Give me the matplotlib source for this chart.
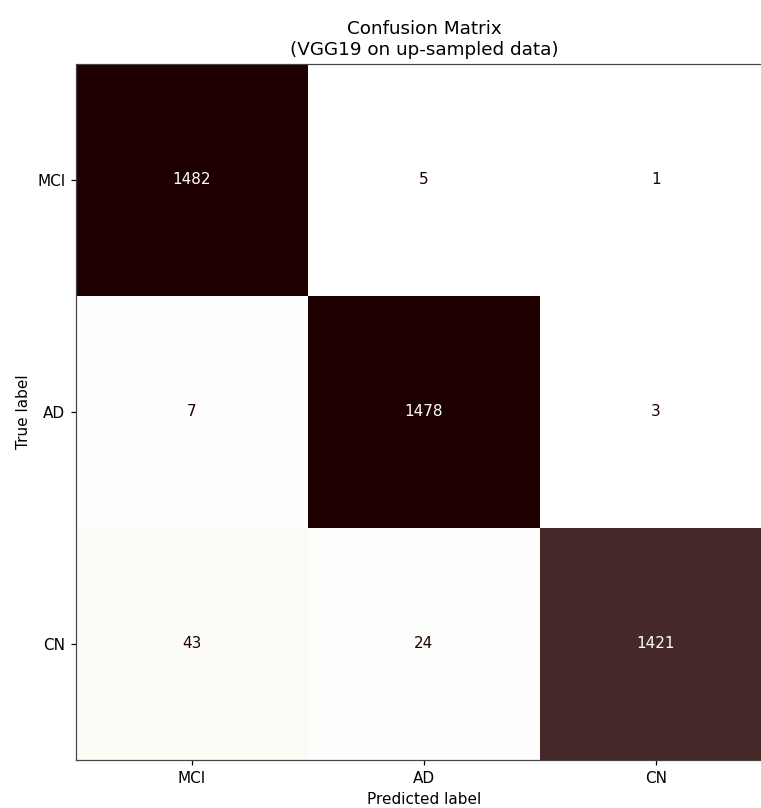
import matplotlib
matplotlib.use('Agg')
import matplotlib.pyplot as plt
import numpy as np

class_labels = ['MCI', 'AD', 'CN']
conf_counts = [[1482, 5, 1],
               [7, 1478, 3],
               [43, 24, 1421]]
title = 'Confusion Matrix\n(VGG19 on up-sampled data)'

cm = np.array(conf_counts)
cmap = plt.get_cmap('pink_r')

dpi = 110
fig = plt.figure(figsize=(761 / dpi, 808 / dpi), dpi=dpi)
# axes runs slightly past the right edge, like the reference crop
ax = fig.add_axes([76 / 761, 48 / 808, 696 / 761, 696 / 808])
im = ax.imshow(cm, interpolation='nearest', cmap=cmap)

thresh = (cm.max() + cm.min()) / 2.0
for i in range(cm.shape[0]):
    for j in range(cm.shape[1]):
        color = cmap(0.0) if cm[i, j] >= thresh else cmap(1.0)
        ax.text(j, i, format(cm[i, j], 'd'), ha='center', va='center', color=color)

ax.set_xticks(np.arange(len(class_labels)))
ax.set_yticks(np.arange(len(class_labels)))
ax.set_xticklabels(class_labels)
ax.set_yticklabels(class_labels)
ax.set_xlabel('Predicted label')
ax.set_ylabel('True label')
ax.set_title(title)
ax.set_ylim(len(class_labels) - 0.5, -0.5)
for sp in ax.spines.values():
    sp.set_color('#444444')

plt.savefig('out.png', dpi=dpi)
